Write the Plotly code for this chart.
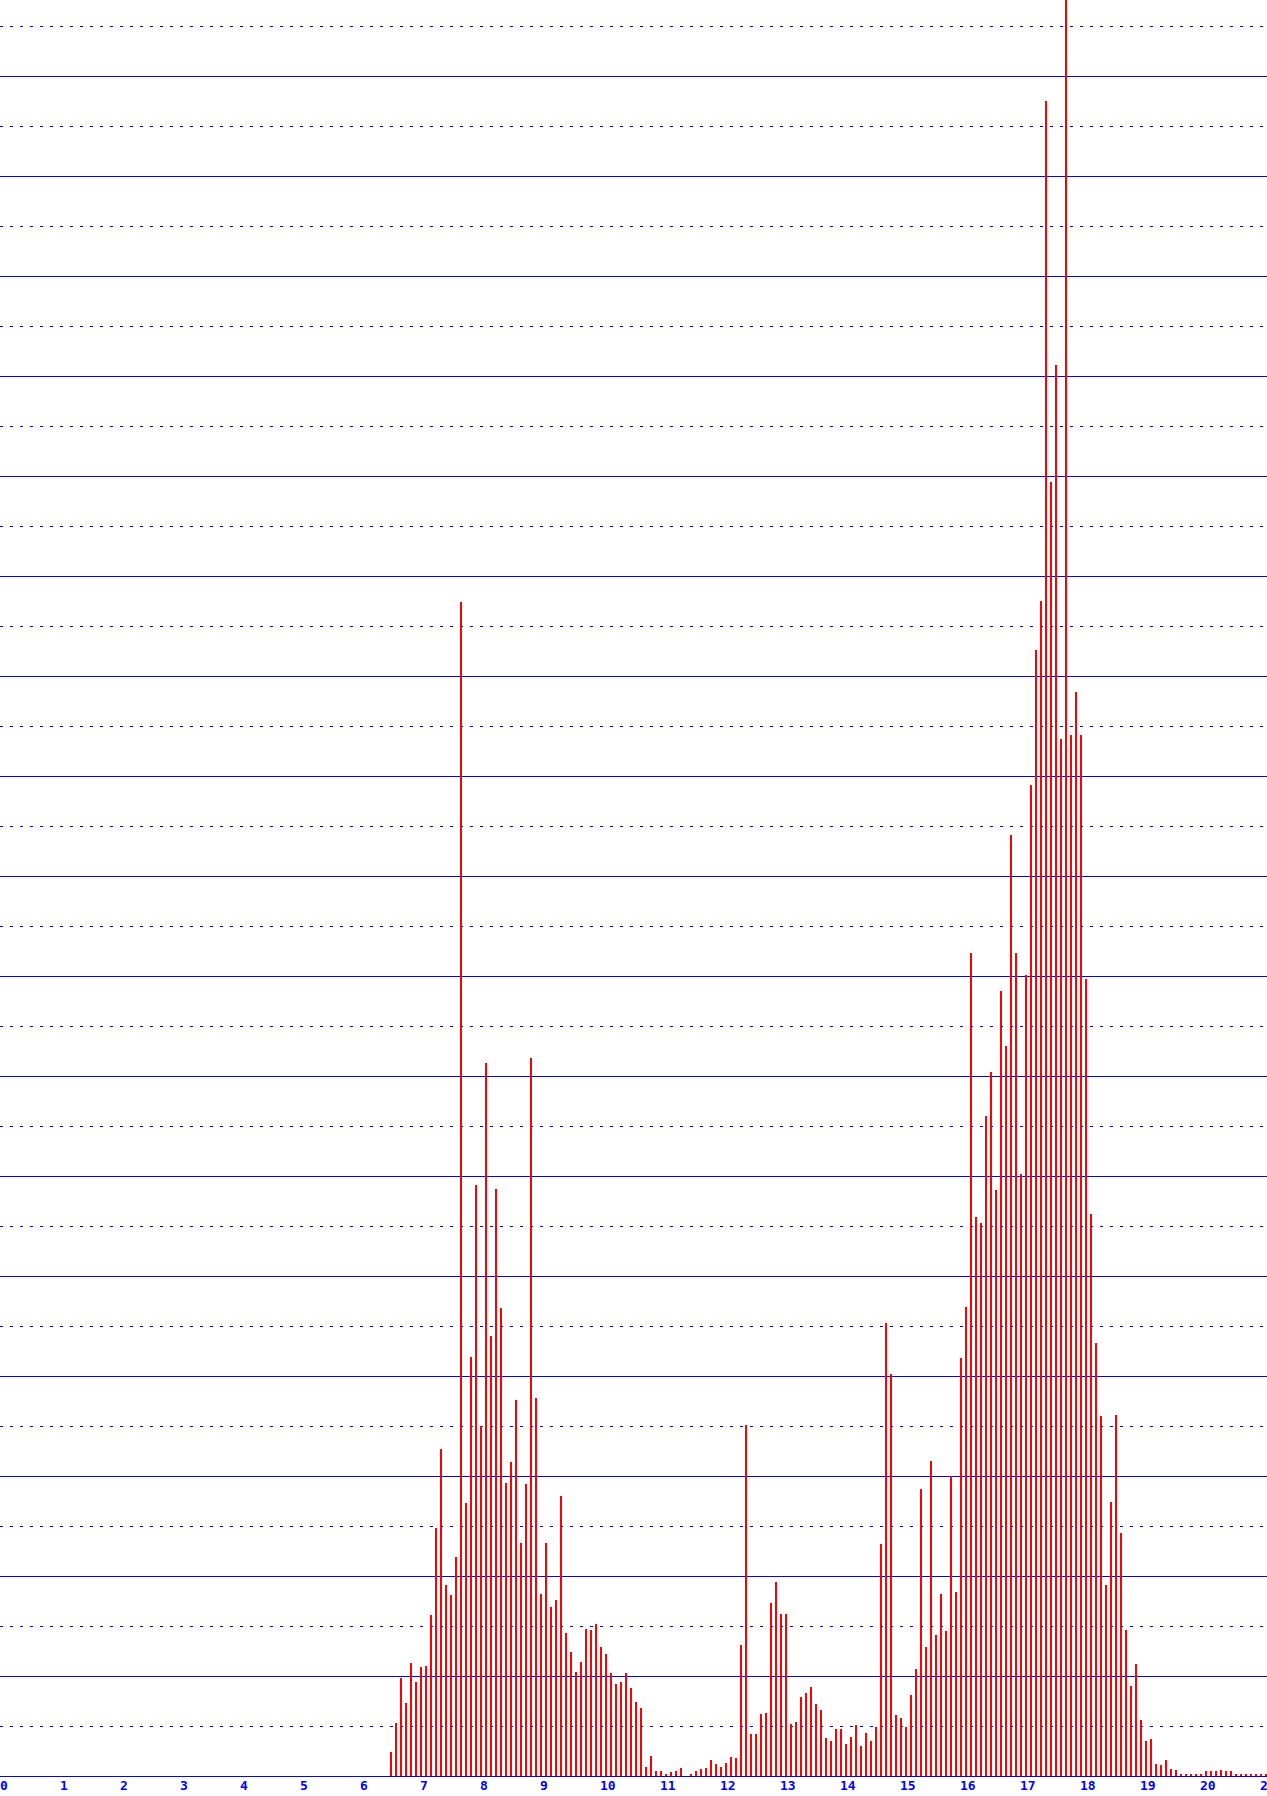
import plotly.graph_objects as go

# Bar positions: one bar every 1/12 unit starting at 6.5
start_x = 6.5
step = 1.0 / 12.0

# Heights (in half-grid units), left to right
cluster_a = [0.49, 1.06, 1.96, 1.46, 2.26, 1.89, 2.18, 2.21, 3.23, 4.96,
             6.54, 3.82, 3.62, 4.39, 23.48, 5.46, 8.38, 11.82, 7.0, 14.26,
             8.8, 11.74, 9.36, 5.86, 6.28, 7.52, 4.66, 5.84, 14.36, 7.56,
             3.64, 4.66, 3.39, 3.52, 5.6]
cluster_b = [2.86, 2.48, 2.08, 2.28, 2.94, 2.92, 3.04, 2.58, 2.44, 2.06,
             1.84, 1.88, 2.06, 1.76, 1.48, 1.36, 0.18, 0.40, 0.10, 0.10,
             0.04, 0.08, 0.10, 0.16, 0.0, 0.04, 0.10, 0.14, 0.16, 0.32,
             0.24, 0.18, 0.26, 0.38, 0.36, 2.62, 7.02, 0.84, 0.84, 1.24,
             1.26, 3.46, 3.88, 3.24, 3.24, 1.04, 1.08]
cluster_c = [1.59, 1.66, 1.78, 1.45, 1.32, 0.77, 0.71, 0.95, 0.95, 0.65,
             0.79, 1.03, 0.61, 0.86, 0.71, 0.98, 4.65, 9.07, 8.05, 1.23,
             1.17, 0.98, 1.63, 2.15, 5.75, 2.59, 6.31, 2.83, 3.65, 2.90,
             6.01, 3.69, 8.37, 9.39, 16.46, 11.19, 11.06, 13.20, 14.08, 11.72]
cluster_d = [15.70, 14.61, 18.83, 16.47, 12.04, 16.02, 19.83, 22.53, 23.51, 33.50,
             25.89, 28.23, 20.74, 36.5, 20.83, 21.69, 20.83, 15.95, 11.25, 8.66,
             7.21, 3.83, 5.48, 7.23, 4.87, 2.92, 1.81, 2.24]
cluster_e = [1.13, 0.71, 0.75, 0.25, 0.23, 0.33, 0.15, 0.13, 0.05, 0.05,
             0.05, 0.05, 0.05, 0.11, 0.11, 0.11, 0.13, 0.11, 0.11, 0.05,
             0.05, 0.05, 0.05, 0.05, 0.05, 0.05]

heights = cluster_a + cluster_b + cluster_c + cluster_d + cluster_e
x_vals = [start_x + i * step for i in range(len(heights))]

tick_vals = list(range(0, 22))
tick_text = [str(v) for v in tick_vals]

W, H = 1267, 1796
BOTTOM = 20
X_MAX = W / 60.0
Y_MAX = (H - BOTTOM) / 50.0

fig = go.Figure()
fig.add_trace(go.Bar(
    x=x_vals, y=heights,
    width=2.0 / 60.0, offset=0,
    marker=dict(color="#FF0000", line=dict(width=0)),
    hoverinfo="x+y",
))

fig.update_layout(
    width=W, height=H,
    margin=dict(l=0, r=0, t=0, b=BOTTOM, pad=0),
    paper_bgcolor="white", plot_bgcolor="white",
    showlegend=False, bargap=0,
)
fig.update_xaxes(
    range=[0, X_MAX], fixedrange=True,
    showgrid=False, zeroline=False,
    showline=False,
    tickmode="array", tickvals=tick_vals, ticktext=tick_text,
    ticks="", ticklabelposition="outside right",
    ticklabeloverflow="allow",
    tickfont=dict(family="DejaVu Sans Mono", size=13, color="#0000FF", weight="bold"),
    automargin=False,
)
fig.update_yaxes(
    range=[0, Y_MAX], fixedrange=True,
    showticklabels=False, ticks="",
    tick0=0, dtick=2,
    showgrid=True, gridcolor="#0000FF", gridwidth=1,
    zeroline=True, zerolinecolor="#0000FF", zerolinewidth=1,
    minor=dict(tick0=1, dtick=2, showgrid=True, gridcolor="#0000FF",
               gridwidth=1, griddash="3px,7px", ticks=""),
    automargin=False,
)

fig.write_html("out.html", config={"displayModeBar": False},
               post_script="document.body.style.margin='0';")
